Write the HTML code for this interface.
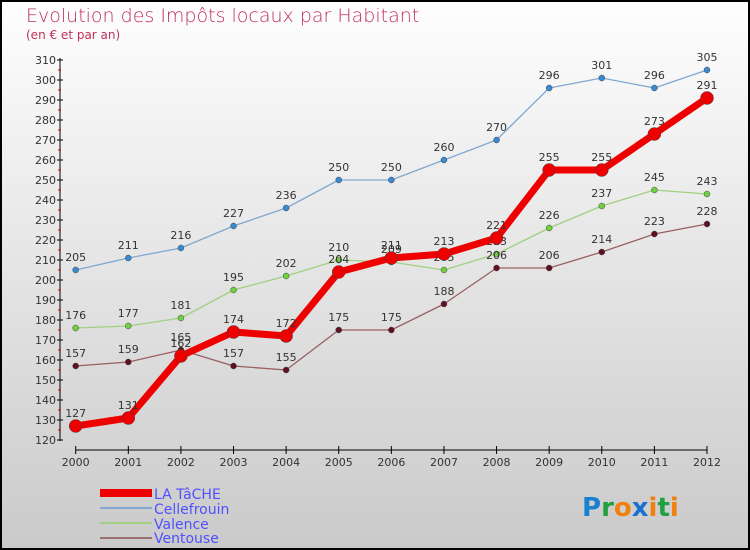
<!DOCTYPE html>
<html><head><meta charset="utf-8"><style>
html,body{margin:0;padding:0}
body{width:750px;height:550px;overflow:hidden;font-family:"DejaVu Sans","Liberation Sans",sans-serif}
#frame{position:absolute;left:0;top:0;width:746px;height:546px;border:2px solid #000;background:linear-gradient(#fefefe,#cacaca)}
</style></head><body>
<div id="frame"></div>
<svg id="chart" width="750" height="550" style="position:absolute;left:0;top:0">
<text x="26" y="22" font-size="19" fill="#c0305a" font-family="DejaVu Sans,sans-serif" font-weight="200">Evolution des Impôts locaux par Habitant</text>
<text x="26" y="39" font-size="12" fill="#c0305a">(en € et par an)</text>
<g id="axes"></g><g id="series"></g>
<g font-size="14" fill="#5050ff">
<rect x="100" y="489" width="52" height="8" fill="#ee0000"/>
<text x="154" y="499">LA TâCHE</text>
<rect x="100" y="507" width="52" height="2" fill="#80a8d0"/>
<text x="154" y="514">Cellefrouin</text>
<rect x="100" y="522" width="52" height="2" fill="#a0d080"/>
<text x="154" y="529">Valence</text>
<rect x="100" y="537" width="52" height="2" fill="#9a7070"/>
<text x="154" y="543">Ventouse</text>
</g>
<text x="582" y="516" font-size="26" font-family="DejaVu Sans,sans-serif" font-weight="bold"><tspan fill="#1a80d0">P</tspan><tspan fill="#20a040">r</tspan><tspan fill="#f08010">o</tspan><tspan fill="#1a70d0">x</tspan><tspan fill="#f08010">i</tspan><tspan fill="#20a040">t</tspan><tspan fill="#f08010">i</tspan></text>
</svg>
<script>
const years=[2000,2001,2002,2003,2004,2005,2006,2007,2008,2009,2010,2011,2012];
const laTache=[127,131,162,174,172,204,211,213,221,255,255,273,291];
const cellefrouin=[205,211,216,227,236,250,250,260,270,296,301,296,305];
const valence=[176,177,181,195,202,210,209,205,213,226,237,245,243];
const ventouse=[157,159,165,157,155,175,175,188,206,206,214,223,228];
const yTicks=[120,130,140,150,160,170,180,190,200,210,220,230,240,250,260,270,280,290,300,310];
const NS="http://www.w3.org/2000/svg";
const xS=i=>75.7+i*(707-75.7)/12;
const yS=v=>60+(310-v)*2;
function mk(tag,attrs,parent){const e=document.createElementNS(NS,tag);for(const k in attrs)e.setAttribute(k,attrs[k]);parent.appendChild(e);return e;}
const ax=document.getElementById('axes');
let l=mk('line',{x1:60,y1:58,x2:60,y2:441,stroke:'#000','stroke-width':1},ax);


l=mk('line',{x1:75.7,y1:450,x2:707,y2:450,stroke:'#000','stroke-width':1},ax);


yTicks.forEach(v=>{
  mk('line',{x1:57,x2:63,y1:yS(v),y2:yS(v),stroke:'#000'},ax);
  if(v<310) mk('line',{x1:58,x2:61,y1:yS(v+5),y2:yS(v+5),stroke:'#e00000'},ax);
  const t=mk('text',{x:56,y:yS(v)+4,'font-size':11,'text-anchor':'end',fill:'#333'},ax);t.textContent=v;
  
  
});
years.forEach((y,i)=>{
  mk('line',{x1:xS(i),x2:xS(i),y1:446,y2:454,stroke:'#000'},ax);
  const t=mk('text',{x:xS(i),y:466,'font-size':11,'text-anchor':'middle',fill:'#333'},ax);t.textContent=y;
  
  
});
const sg=document.getElementById('series');
function series(data,name,color,w,r,dot,lab){
  const g=mk('g',{},sg);
  
  
  const p=mk('polyline',{points:data.map((v,i)=>xS(i)+','+yS(v)).join(' '),fill:'none',stroke:color,'stroke-width':w,'stroke-linejoin':'round'},g);
  
  
  data.forEach((v,i)=>{
    const c=mk('circle',{cx:xS(i),cy:yS(v),r:r,fill:dot,stroke:'#444','stroke-width':0.5},g);
    
    
    const t=mk('text',{x:xS(i),y:yS(v)-9,'font-size':11,'text-anchor':'middle',fill:lab},g);t.textContent=v;
    
    
  });
}
series(cellefrouin,'cellefrouin','#80a8d0',1.3,3,'#3a8ad0','#333');
series(valence,'valence','#a0d080',1.3,3,'#70d040','#333');
series(ventouse,'ventouse','#9a6060',1.3,3,'#601020','#333');
series(laTache,'latache','#ee0000',7,6.5,'#ee0000','#333');
</script>
</body></html>
